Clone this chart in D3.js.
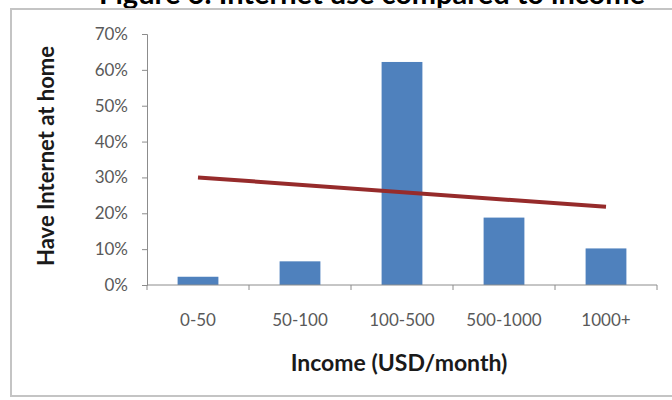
<!DOCTYPE html>
<html>
<head>
<meta charset="utf-8">
<script src="https://cdn.jsdelivr.net/npm/d3@7"></script>
<style>
  body { margin: 0; background: #fff; }
  svg { display: block; font-family: Lato, "Open Sans", sans-serif; }
</style>
</head>
<body>
<div id="chart"></div>
<script>
var categories = ['0-50', '50-100', '100-500', '500-1000', '1000+'];
var shares = [2.3, 6.6, 62.2, 18.8, 10.2];
var trendCats = ['0-50', '1000+'];
var trendVals = [30, 21.8];
var yTicks = [0, 10, 20, 30, 40, 50, 60, 70];

var width = 672;
var height = 400;
var plotLeft = 147, plotRight = 657, plotTop = 34, plotBottom = 285;

var svg = d3.select('#chart')
  .append('svg')
  .attr('width', width)
  .attr('height', height);

// title, cut off at the top of the picture
svg.append('text')
  .attr('x', 372)
  .attr('y', 4)
  .attr('text-anchor', 'middle')
  .style('font-weight', 'bold')
  .style('font-size', '29px')
  .text('Figure 6: Internet use compared to income');

// chart frame
svg.append('rect')
  .attr('x', 11).attr('y', 9)
  .attr('width', 700).attr('height', 387)
  .attr('fill', 'none')
  .attr('stroke', '#c4c4c4')
  .attr('stroke-width', 2);

var x = d3.scaleBand()
  .domain(categories)
  .range([plotLeft, plotRight])
  .paddingInner(0.6)
  .paddingOuter(0.3);

var xBand = d3.scaleBand()
  .domain(categories)
  .range([plotLeft, plotRight]);

var y = d3.scaleLinear()
  .domain([0, 70])
  .range([plotBottom, plotTop]);

// bars
svg.selectAll('rect.bar')
  .data(shares)
  .enter()
  .append('rect')
  .attr('class', 'bar')
  .attr('x', function(d, i) { return x(categories[i]); })
  .attr('width', x.bandwidth())
  .attr('y', function(d) { return y(d); })
  .attr('height', function(d) { return plotBottom - y(d); })
  .attr('fill', '#4f81bd');

// y axis
var yAxis = svg.append('g')
  .attr('transform', 'translate(' + plotLeft + ',0)')
  .call(d3.axisLeft(y).tickValues(yTicks).tickSize(5).tickPadding(14)
    .tickFormat(function(d) { return d + '%'; }));
yAxis.select('.domain').attr('stroke', '#8c8c8c');
yAxis.selectAll('.tick line').attr('stroke', '#8c8c8c');
yAxis.selectAll('.tick text')
  .attr('fill', '#595959')
  .style('font-size', '17px')
  .style('font-family', 'Lato, sans-serif');

// x axis with ticks on band edges
var xAxis = svg.append('g')
  .attr('transform', 'translate(0,' + plotBottom + ')');
xAxis.append('line')
  .attr('x1', plotLeft).attr('x2', plotRight)
  .attr('stroke', '#8c8c8c');
var edges = categories.map(function(c) { return xBand(c); }).concat([plotRight]);
xAxis.selectAll('line.tk')
  .data(edges)
  .enter()
  .append('line')
  .attr('class', 'tk')
  .attr('x1', function(d) { return d; })
  .attr('x2', function(d) { return d; })
  .attr('y1', 0).attr('y2', 5)
  .attr('stroke', '#8c8c8c');
xAxis.selectAll('text')
  .data(categories)
  .enter()
  .append('text')
  .attr('x', function(d) { return xBand(d) + xBand.bandwidth() / 2; })
  .attr('y', 41)
  .attr('text-anchor', 'middle')
  .attr('fill', '#595959')
  .style('font-size', '17px')
  .text(function(d) { return d; });

// trend line
var line = d3.line()
  .x(function(d, i) { return xBand(trendCats[i]) + xBand.bandwidth() / 2; })
  .y(function(d) { return y(d); });
svg.append('path')
  .datum(trendVals)
  .attr('d', line)
  .attr('fill', 'none')
  .attr('stroke', '#962b2b')
  .attr('stroke-width', 4);

// axis titles
svg.append('text')
  .attr('transform', 'translate(54,156) rotate(-90)')
  .attr('text-anchor', 'middle')
  .style('font-weight', 'bold')
  .style('font-size', '22px')
  .attr('fill', '#1a1a1a')
  .text('Have Internet at home');

svg.append('text')
  .attr('x', 399)
  .attr('y', 371)
  .attr('text-anchor', 'middle')
  .style('font-weight', 'bold')
  .style('font-size', '23px')
  .attr('fill', '#1a1a1a')
  .text('Income (USD/month)');
</script>
</body>
</html>
